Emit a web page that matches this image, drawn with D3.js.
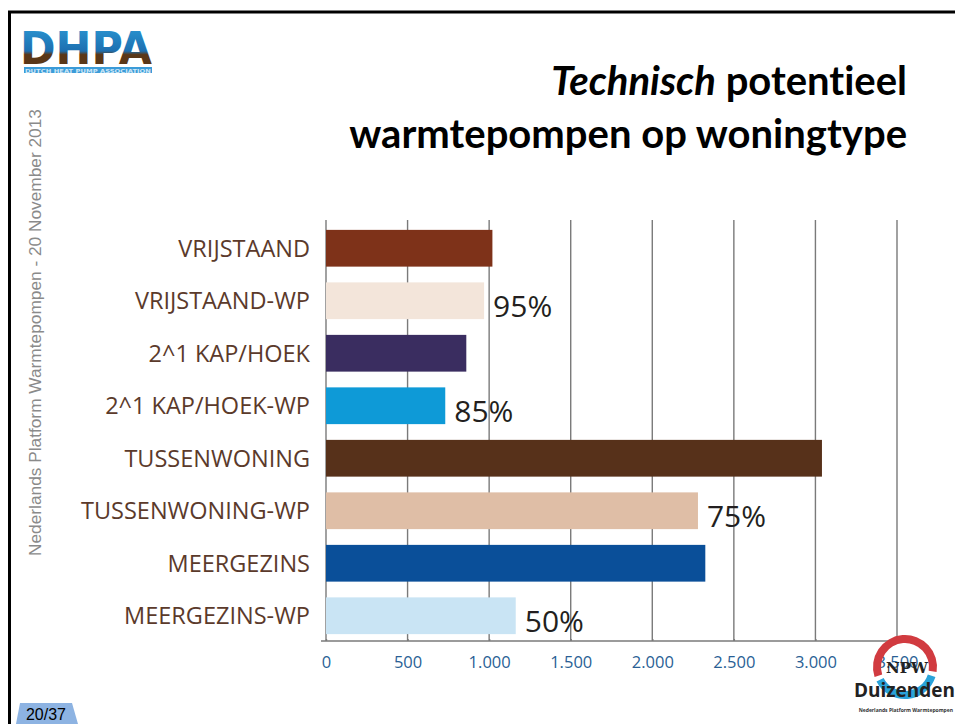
<!DOCTYPE html>
<html>
<head>
<meta charset="utf-8">
<script src="https://cdn.jsdelivr.net/npm/d3@7"></script>
<style>
  body { margin: 0; background: #fff; }
  svg { display: block; }
</style>
</head>
<body>
<svg id="chart" width="955" height="724"></svg>
<script>
const categories = ["VRIJSTAAND", "VRIJSTAAND-WP", "2^1 KAP/HOEK", "2^1 KAP/HOEK-WP",
  "TUSSENWONING", "TUSSENWONING-WP", "MEERGEZINS", "MEERGEZINS-WP"];
const values = [1020, 969, 860, 731, 3040, 2280, 2325, 1163];
const percentLabels = ["", "95%", "", "85%", "", "75%", "", "50%"];
const barColors = ["#7e3219", "#f3e5da", "#3a2d60", "#0e9ad7", "#57311a", "#dfbea6", "#0a4f99", "#c9e4f4"];
const ticks = [0, 500, 1000, 1500, 2000, 2500, 3000, 3500];

const svg = d3.select("#chart");

// slide frame
svg.append("line").attr("x1", 8).attr("x2", 955).attr("y1", 12).attr("y2", 12)
  .attr("stroke", "#000").attr("stroke-width", 3);
svg.append("line").attr("x1", 9.5).attr("x2", 9.5).attr("y1", 11).attr("y2", 724)
  .attr("stroke", "#000").attr("stroke-width", 3);

// DHPA logo (approximation)
const defs = svg.append("defs");
const grad = defs.append("linearGradient").attr("id", "dhpa").attr("x1", 0).attr("x2", 0).attr("y1", 0).attr("y2", 1);
grad.append("stop").attr("offset", "0%").attr("stop-color", "#2b9ad6");
grad.append("stop").attr("offset", "55%").attr("stop-color", "#1d6fb0");
grad.append("stop").attr("offset", "62%").attr("stop-color", "#5a3718");
grad.append("stop").attr("offset", "100%").attr("stop-color", "#5a3718");
svg.append("text").attr("x", 20).attr("y", 64)
  .attr("font-family", "DejaVu Sans").attr("font-weight", "bold").attr("font-size", 44)
  .attr("textLength", 132).attr("lengthAdjust", "spacingAndGlyphs")
  .attr("fill", "url(#dhpa)").text("DHPA");
svg.append("rect").attr("x", 24).attr("y", 67).attr("width", 128).attr("height", 6).attr("fill", "#3b9bd8");
svg.append("text").attr("x", 25).attr("y", 72.5)
  .attr("font-family", "DejaVu Sans").attr("font-weight", "bold").attr("font-size", 5.5)
  .attr("textLength", 126).attr("lengthAdjust", "spacingAndGlyphs")
  .attr("fill", "#cfe8f7").text("DUTCH HEAT PUMP ASSOCIATION");

// title
const title = svg.append("g").attr("font-family", "Lato, 'Open Sans', sans-serif")
  .attr("font-weight", "bold").attr("fill", "#000").attr("text-anchor", "end")
  .style("font-variant-ligatures", "none");
const t1 = title.append("text").attr("x", 907).attr("y", 95).attr("font-size", 40);
t1.append("tspan").attr("font-style", "italic").text("Technisch");
t1.append("tspan").text(" potentieel");
title.append("text").attr("x", 907).attr("y", 148).attr("font-size", 40).text("warmtepompen op woningtype");

// side text
svg.append("text")
  .attr("transform", "translate(41,556) rotate(-90)")
  .attr("font-family", "Liberation Sans, Arial, sans-serif").attr("font-size", 17.3)
  .attr("fill", "#8a8a8a").text("Nederlands Platform Warmtepompen - 20 November 2013");

// page number tab
svg.append("path").attr("d", "M20,703 L72,703 L78,724 L16,724 Z").attr("fill", "#8db3e2");
svg.append("text").attr("x", 46).attr("y", 720).attr("text-anchor", "middle")
  .attr("font-family", "Liberation Sans, Arial, sans-serif").attr("font-size", 16)
  .attr("fill", "#000").text("20/37");

// chart
const x = d3.scaleLinear().domain([0, 3500]).range([326, 897]);
const y = d3.scaleBand().domain(categories).range([222, 642]).paddingInner(0.3).paddingOuter(0.15);

// gridlines
svg.append("g").selectAll("line").data(ticks).enter().append("line")
  .attr("x1", d => x(d)).attr("x2", d => x(d))
  .attr("y1", 220).attr("y2", 641)
  .attr("stroke", "#7a7a7a").attr("stroke-width", 1.4);

// bars
svg.append("g").selectAll("rect").data(values).enter().append("rect")
  .attr("x", x(0))
  .attr("y", (d, i) => y(categories[i]))
  .attr("width", d => x(d) - x(0))
  .attr("height", y.bandwidth())
  .attr("fill", (d, i) => barColors[i]);

// percent labels
svg.append("g").selectAll("text").data(values).enter().append("text")
  .attr("x", d => x(d) + 9)
  .attr("y", (d, i) => y(categories[i]) + y.bandwidth() / 2 + 16)
  .attr("font-family", "'Open Sans', sans-serif").attr("font-size", 30)
  .attr("fill", "#231f20")
  .text((d, i) => percentLabels[i]);

// category labels
svg.append("g").selectAll("text").data(categories).enter().append("text")
  .attr("x", 310)
  .attr("y", d => y(d) + y.bandwidth() / 2)
  .attr("dy", "0.36em")
  .attr("text-anchor", "end")
  .attr("font-family", "'Open Sans', sans-serif").attr("font-size", 23.5)
  .attr("fill", "#5b3a2b")
  .text(d => d);

// x axis
const xAxis = d3.axisBottom(x).tickValues(ticks).tickSize(5).tickPadding(10)
  .tickFormat(d => d3.format(",")(d).replace(/,/g, "."));
const ax = svg.append("g").attr("transform", "translate(0,641)").call(xAxis);
ax.select(".domain").attr("stroke", "#7a7a7a").attr("stroke-width", 1.4).attr("d", "M321,0H897");
ax.selectAll(".tick line").attr("stroke", "#7a7a7a").attr("stroke-width", 1.4).attr("y1", -2).attr("y2", 0);
ax.selectAll(".tick text").attr("font-family", "'Open Sans', sans-serif").attr("font-size", 16.5)
  .attr("fill", "#2a5f95");

// NPW logo (approximation)
const logo = svg.append("g").attr("transform", "translate(905,667)");
const arc = d3.arc().innerRadius(24).outerRadius(32);
logo.append("path").attr("d", arc({ startAngle: -Math.PI * 0.6, endAngle: Math.PI * 0.55 })).attr("fill", "#d13b40");
logo.append("path").attr("d", arc({ startAngle: Math.PI * 0.6, endAngle: Math.PI * 1.35 })).attr("fill", "#2aa3d9");
logo.append("text").attr("x", 2).attr("y", 6).attr("text-anchor", "middle")
  .attr("font-family", "DejaVu Serif, serif").attr("font-weight", "bold").attr("font-size", 15)
  .attr("fill", "#222").text("NPW");
svg.append("text").attr("x", 955).attr("y", 697).attr("text-anchor", "end")
  .attr("font-family", "'Open Sans', sans-serif").attr("font-weight", "bold").attr("font-size", 19)
  .attr("fill", "#222").text("Duizenden");
svg.append("text").attr("x", 953).attr("y", 712).attr("text-anchor", "end")
  .attr("font-family", "'Open Sans', sans-serif").attr("font-weight", "bold").attr("font-size", 5)
  .attr("fill", "#333").text("Nederlands Platform Warmtepompen");
</script>
</body>
</html>
